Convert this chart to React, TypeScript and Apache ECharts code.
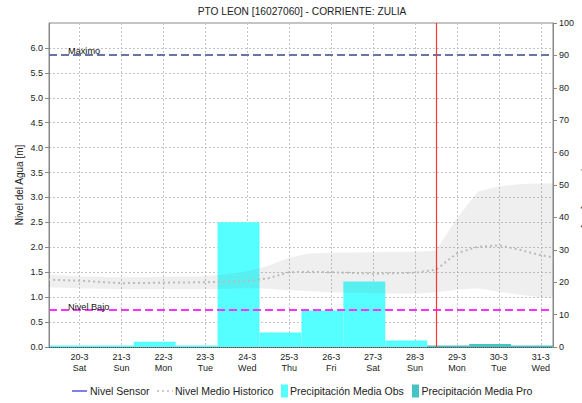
import React, { useEffect, useRef } from "react";
import * as echarts from "echarts";

const chartTitle = "PTO LEON [16027060] - CORRIENTE: ZULIA";
const leftAxisName = "Nivel del Agua [m]";
const rightAxisName = "Precipitación [mm]";

const dayLabels = ["20-3", "21-3", "22-3", "23-3", "24-3", "25-3", "26-3", "27-3", "28-3", "29-3", "30-3", "31-3"];
const weekDays = ["Sat", "Sun", "Mon", "Tue", "Wed", "Thu", "Fri", "Sat", "Sun", "Mon", "Tue", "Wed"];
// hours counted from 20-3 00:00
const dayTickHours = [0, 24, 48, 72, 96, 120, 144, 168, 192, 216, 240, 264];
const xMinHour = -17.5;
const xMaxHour = 271;
const barHours = 24;

const obsStartHours = [-17, 7, 31, 55, 79, 103, 127, 151, 175];
const precipObs = [0.5, 0.5, 1.6, 0.5, 38.5, 4.5, 11.3, 20.2, 2.0];
const proStartHours = [199, 223, 247];
const precipPro = [0.5, 0.9, 0.5];

const histHours = [-18, 0, 24, 48, 72, 84, 96, 108, 120, 132, 144, 168, 192, 204, 216, 228, 240, 252, 264, 276];
const histUpper = [1.45, 1.42, 1.4, 1.41, 1.42, 1.46, 1.52, 1.63, 1.79, 1.88, 1.89, 1.9, 1.91, 1.93, 2.58, 3.12, 3.22, 3.27, 3.28, 3.29];
const histLower = [1.2, 1.18, 1.16, 1.16, 1.16, 1.17, 1.18, 1.17, 1.14, 1.12, 1.1, 1.08, 1.07, 1.1, 1.15, 1.18, 1.11, 1.05, 1.0, 0.98];
const histMean = [1.35, 1.33, 1.28, 1.29, 1.3, 1.31, 1.32, 1.38, 1.5, 1.51, 1.5, 1.47, 1.49, 1.55, 1.88, 2.01, 2.04, 1.95, 1.84, 1.77];

const levelMax = 5.87;
const levelLow = 0.74;
const nowHour = 204;

const legendNames = ["Nivel Sensor", "Nivel Medio Historico", "Precipitación Media Obs", "Precipitación Media Pro"];

const FONT = "'Liberation Sans', Arial, sans-serif";
const OBS_COLOR = "#55FFFF";
const PRO_COLOR = "#44C4C4";
const GRID_COLOR = "#c4c4c4";
const AXIS_COLOR = "#888888";
const BAND_COLOR = "rgba(110,110,110,0.11)";

function barRender(fill: string) {
  return (params: any, api: any) => {
    const start = api.value(0);
    const end = api.value(1);
    const val = api.value(2);
    const tl = api.coord([start, val]);
    const br = api.coord([end, 0]);
    const cs = params.coordSys;
    const rect = echarts.graphic.clipRectByRect(
      { x: tl[0], y: tl[1], width: br[0] - tl[0], height: br[1] - tl[1] },
      { x: cs.x, y: cs.y, width: cs.width, height: cs.height }
    );
    if (!rect) return null;
    return { type: "rect", shape: rect, style: { fill } };
  };
}

function bandRender(params: any, api: any) {
  if (params.dataIndex !== 0) return null;
  const upper = histHours.map((h, i) => api.coord([h, histUpper[i]]));
  const lower = histHours.map((h, i) => api.coord([h, histLower[i]])).reverse();
  return {
    type: "polygon",
    shape: { points: [...upper, ...lower] },
    style: { fill: BAND_COLOR },
  };
}

export default function App() {
  const ref = useRef<HTMLDivElement>(null);
  useEffect(() => {
    if (!ref.current) return;
    const chart = echarts.init(ref.current, undefined, { renderer: "svg" });

    const obsData = obsStartHours.map((h, i) => [h, h + barHours, precipObs[i]]);
    const proData = proStartHours.map((h, i) => [h, h + barHours, precipPro[i]]);
    const bandData = histHours.map((h, i) => [h, histLower[i], histUpper[i]]);
    const meanData = histHours.map((h, i) => [h, histMean[i]]);

    const legendY = 391;
    const legendFont = { fontSize: 10.5, fontFamily: FONT, fill: "#222" };
    const markLabel = {
      show: true,
      position: "insideStartTop",
      distance: -1,
      padding: [0, 0, 0, 20],
      fontSize: 9.2,
      color: "#111",
      fontFamily: FONT,
    };

    chart.setOption({
      animation: false,
      textStyle: { fontFamily: FONT },
      title: {
        text: chartTitle,
        left: 302,
        top: 6,
        padding: 0,
        textAlign: "center",
        textStyle: { fontSize: 10.2, fontWeight: "normal", color: "#222", fontFamily: FONT },
      },
      grid: {
        left: 49,
        right: 29,
        top: 23,
        bottom: 56,
        show: true,
        borderColor: AXIS_COLOR,
        borderWidth: 1,
      },
      xAxis: {
        type: "value",
        min: xMinHour,
        max: xMaxHour,
        axisLine: { show: true, onZero: false, lineStyle: { color: "#555", type: [1, 1], width: 1 } },
        axisTick: { show: false, customValues: dayTickHours },
        axisLabel: {
          customValues: dayTickHours,
          fontSize: 9,
          color: "#222",
          margin: 4,
          lineHeight: 11.5,
          formatter: (v: number) => {
            const i = Math.round(v / 24);
            return `${dayLabels[i]}\n${weekDays[i]}`;
          },
        },
        splitLine: { show: true, lineStyle: { color: GRID_COLOR, type: [2, 2], width: 1 } },
      },
      yAxis: [
        {
          type: "value",
          min: 0,
          max: 6.5,
          interval: 0.5,
          position: "left",
          name: leftAxisName,
          nameLocation: "middle",
          nameRotate: 90,
          nameMoveOverlap: false,
          nameGap: 25,
          nameTextStyle: { fontSize: 10, color: "#222", fontFamily: FONT },
          axisLine: { show: true, onZero: false, lineStyle: { color: AXIS_COLOR } },
          axisTick: { show: true, length: 4, lineStyle: { color: AXIS_COLOR } },
          axisLabel: {
            fontSize: 9,
            color: "#222",
            margin: 6,
            showMaxLabel: false,
            formatter: (v: number) => v.toFixed(1),
          },
          splitLine: { show: true, lineStyle: { color: GRID_COLOR, type: [2, 2], width: 1 } },
        },
        {
          type: "value",
          min: 0,
          max: 100,
          interval: 10,
          position: "right",
          axisLine: { show: true, onZero: false, lineStyle: { color: AXIS_COLOR } },
          axisTick: { show: true, length: 4, lineStyle: { color: AXIS_COLOR } },
          axisLabel: { fontSize: 9, color: "#222", margin: 6 },
          splitLine: { show: false },
        },
      ],
      series: [
        {
          name: legendNames[2],
          type: "custom",
          yAxisIndex: 1,
          renderItem: barRender(OBS_COLOR),
          encode: { x: [0, 1], y: 2 },
          data: obsData,
          z: 2,
          silent: true,
        },
        {
          name: legendNames[3],
          type: "custom",
          yAxisIndex: 1,
          renderItem: barRender(PRO_COLOR),
          encode: { x: [0, 1], y: 2 },
          data: proData,
          z: 2,
          silent: true,
        },
        {
          name: "Rango Historico",
          type: "custom",
          yAxisIndex: 0,
          renderItem: bandRender,
          encode: { x: 0, y: [1, 2] },
          data: bandData,
          clip: true,
          z: 3,
          silent: true,
        },
        {
          name: legendNames[1],
          type: "line",
          yAxisIndex: 0,
          symbol: "none",
          data: meanData,
          lineStyle: { color: "#bbbbbb", width: 2, type: [2, 3] },
          z: 4,
          silent: true,
          markLine: {
            symbol: "none",
            silent: true,
            data: [
              {
                yAxis: levelMax,
                lineStyle: { color: "#6674A6", type: [8, 4], width: 2 },
                label: { ...markLabel, formatter: "Maximo" },
              },
              {
                yAxis: levelLow,
                lineStyle: { color: "#FF33FF", type: [8, 4], width: 2 },
                label: { ...markLabel, formatter: "Nivel Bajo" },
              },
              {
                xAxis: nowHour,
                lineStyle: { color: "#FF3333", type: "solid", width: 1.2 },
                label: { show: false },
              },
            ],
          },
        },
        {
          name: legendNames[0],
          type: "line",
          yAxisIndex: 0,
          symbol: "none",
          data: [],
          lineStyle: { color: "#0000CC", width: 1 },
        },
      ],
      graphic: [
        {
          type: "text",
          x: 586.5,
          y: 187,
          rotation: -Math.PI / 2,
          style: { text: rightAxisName, fontSize: 10, fontFamily: FONT, fill: "#222", align: "center", verticalAlign: "middle" },
        },
        { type: "line", shape: { x1: 72, y1: legendY, x2: 87, y2: legendY }, style: { stroke: "#0000CC", lineWidth: 1 } },
        { type: "text", x: 90, y: legendY, style: { text: legendNames[0], ...legendFont, verticalAlign: "middle" } },
        { type: "line", shape: { x1: 157, y1: legendY, x2: 173, y2: legendY }, style: { stroke: "#bbbbbb", lineWidth: 1.5, lineDash: [2, 3] } },
        { type: "text", x: 175, y: legendY, style: { text: legendNames[1], ...legendFont, verticalAlign: "middle" } },
        { type: "rect", shape: { x: 281, y: legendY - 6.5, width: 7, height: 13 }, style: { fill: OBS_COLOR } },
        { type: "text", x: 290, y: legendY, style: { text: legendNames[2], ...legendFont, verticalAlign: "middle" } },
        { type: "rect", shape: { x: 412, y: legendY - 6.5, width: 7, height: 13 }, style: { fill: PRO_COLOR } },
        { type: "text", x: 421.5, y: legendY, style: { text: legendNames[3], ...legendFont, verticalAlign: "middle" } },
      ],
    });

    return () => chart.dispose();
  }, []);

  return <div ref={ref} style={{ position: "absolute", left: 0, top: 0, width: 582, height: 403 }} />;
}
